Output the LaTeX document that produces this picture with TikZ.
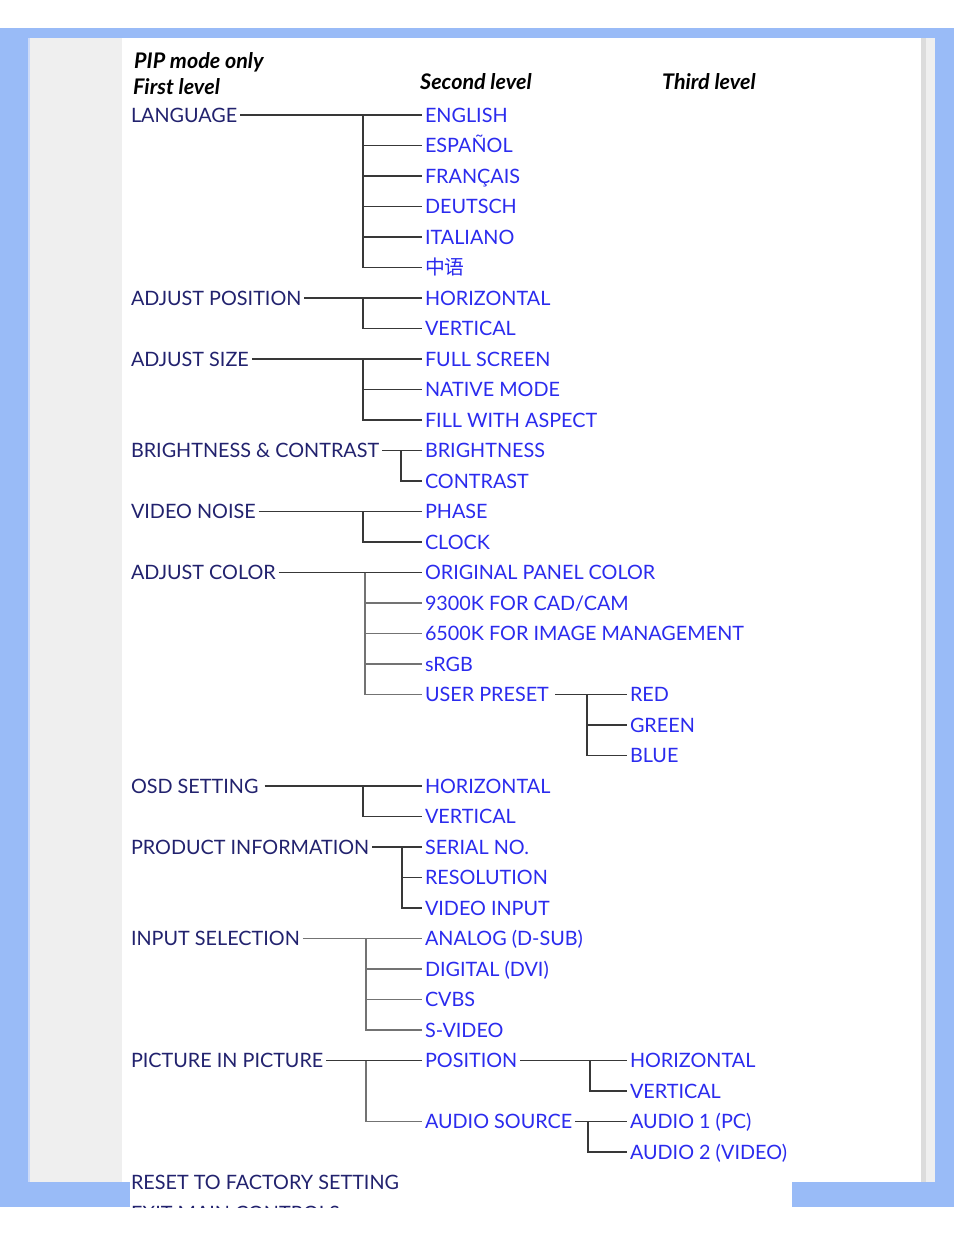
\documentclass[tikz,border=0pt]{standalone}
\usepackage{fontspec}
\setmainfont{Lato}
\newfontfamily\cjk{Noto Sans CJK SC}
\definecolor{frameBlue}{HTML}{99BBF7}
\definecolor{frameLine}{HTML}{CCDAF8}
\definecolor{panelGray}{HTML}{EFEFEF}
\definecolor{edgeGray}{HTML}{DCDCDC}
\definecolor{menuNavy}{HTML}{22226E}
\definecolor{menuBlue}{HTML}{2B2BEE}
\newcommand\ry[1]{115+30.5*#1}
\tikzset{
  lvlone/.style={anchor=west, inner sep=0pt, outer sep=3pt, text=menuNavy,
    font=\fontsize{19.8}{20}\selectfont, text height=14pt, text depth=0pt},
  lvltwo/.style={lvlone, text=menuBlue},
  head/.style={anchor=west, inner sep=0pt, text=black,
    font=\fontsize{21.5}{22}\selectfont\bfseries\itshape},
  branch/.style={draw=black!78, line width=1.4pt},
  branchpale/.style={draw=black!55, line width=1.4pt},
}
\begin{document}
\begin{tikzpicture}[x=1pt,y=-1pt]
  % page frame
  \fill[white] (0,0) rectangle (954,1235);
  \fill[frameBlue] (0,28) rectangle (954,1207);
  \fill[white] (122,38) rectangle (921,1207);
  \fill[panelGray] (30,38) rectangle (122,1182);
  \fill[frameLine] (28,38) rectangle (30,1182);
  \fill[edgeGray] (921,38) rectangle (926,1182);
  \fill[panelGray] (926,38) rectangle (935,1182);
  \fill[frameBlue] (0,1182) rectangle (130,1207);
  \fill[frameBlue] (792,1182) rectangle (954,1207);

  % headings
  \node[head] (pipmode) at (134,62) {PIP mode only};
  \node[head] (firstlvl) at (133,87) {First level};
  \node[head] (secondlvl) at (420,82) {Second level};
  \node[head] (thirdlvl) at (662,82) {Third level};

  % first level
  \node[lvlone] (lang) at (128,{\ry{0}}) {LANGUAGE};
  \node[lvlone] (adjpos) at (128,{\ry{6}}) {ADJUST POSITION};
  \node[lvlone] (adjsize) at (128,{\ry{8}}) {ADJUST SIZE};
  \node[lvlone] (bright) at (128,{\ry{11}}) {BRIGHTNESS \& CONTRAST};
  \node[lvlone] (noise) at (128,{\ry{13}}) {VIDEO NOISE};
  \node[lvlone] (adjcolor) at (128,{\ry{15}}) {ADJUST COLOR};
  \node[lvlone] (osd) at (128,{\ry{22}}) {OSD SETTING\,};
  \node[lvlone] (product) at (128,{\ry{24}}) {PRODUCT INFORMATION};
  \node[lvlone] (input) at (128,{\ry{27}}) {INPUT SELECTION};
  \node[lvlone] (pip) at (128,{\ry{31}}) {PICTURE IN PICTURE};
  \node[lvlone] (reset) at (128,{\ry{35}}) {RESET TO FACTORY SETTING};
  \begin{scope}
    \clip (130,1150) rectangle (792,1207);
    \node[lvlone] (exitmenu) at (128,{\ry{36}}) {EXIT MAIN CONTROLS};
  \end{scope}

  % second level
  \node[lvltwo] (english) at (422,{\ry{0}}) {ENGLISH};
  \node[lvltwo] (espanol) at (422,{\ry{1}}) {ESPAÑOL};
  \node[lvltwo] (francais) at (422,{\ry{2}}) {FRANÇAIS};
  \node[lvltwo] (deutsch) at (422,{\ry{3}}) {DEUTSCH};
  \node[lvltwo] (italiano) at (422,{\ry{4}}) {ITALIANO};
  \node[lvltwo] (chinese) at (422,{\ry{5}}) {\cjk 中语};
  \node[lvltwo] (poshor) at (422,{\ry{6}}) {HORIZONTAL};
  \node[lvltwo] (posver) at (422,{\ry{7}}) {VERTICAL};
  \node[lvltwo] (fullscr) at (422,{\ry{8}}) {FULL SCREEN};
  \node[lvltwo] (native) at (422,{\ry{9}}) {NATIVE MODE};
  \node[lvltwo] (aspect) at (422,{\ry{10}}) {FILL WITH ASPECT};
  \node[lvltwo] (brightness) at (422,{\ry{11}}) {BRIGHTNESS};
  \node[lvltwo] (contrast) at (422,{\ry{12}}) {CONTRAST};
  \node[lvltwo] (phase) at (422,{\ry{13}}) {PHASE};
  \node[lvltwo] (clock) at (422,{\ry{14}}) {CLOCK};
  \node[lvltwo] (panel) at (422,{\ry{15}}) {ORIGINAL PANEL COLOR};
  \node[lvltwo] (ninek) at (422,{\ry{16}}) {9300K FOR CAD/CAM};
  \node[lvltwo] (sixk) at (422,{\ry{17}}) {6500K FOR IMAGE MANAGEMENT};
  \node[lvltwo] (srgb) at (422,{\ry{18}}) {sRGB};
  \node[lvltwo] (preset) at (422,{\ry{19}}) {USER PRESET\,};
  \node[lvltwo] (osdhor) at (422,{\ry{22}}) {HORIZONTAL};
  \node[lvltwo] (osdver) at (422,{\ry{23}}) {VERTICAL};
  \node[lvltwo] (serial) at (422,{\ry{24}}) {SERIAL NO.};
  \node[lvltwo] (resol) at (422,{\ry{25}}) {RESOLUTION};
  \node[lvltwo] (vidin) at (422,{\ry{26}}) {VIDEO INPUT};
  \node[lvltwo] (analog) at (422,{\ry{27}}) {ANALOG (D-SUB)};
  \node[lvltwo] (digital) at (422,{\ry{28}}) {DIGITAL (DVI)};
  \node[lvltwo] (cvbs) at (422,{\ry{29}}) {CVBS};
  \node[lvltwo] (svideo) at (422,{\ry{30}}) {S-VIDEO};
  \node[lvltwo] (pippos) at (422,{\ry{31}}) {POSITION};
  \node[lvltwo] (audiosrc) at (422,{\ry{33}}) {AUDIO SOURCE};

  % third level
  \node[lvltwo] (red) at (627,{\ry{19}}) {RED};
  \node[lvltwo] (green) at (627,{\ry{20}}) {GREEN};
  \node[lvltwo] (blue) at (627,{\ry{21}}) {BLUE};
  \node[lvltwo] (piphor) at (627,{\ry{31}}) {HORIZONTAL};
  \node[lvltwo] (pipver) at (627,{\ry{32}}) {VERTICAL};
  \node[lvltwo] (audioone) at (627,{\ry{33}}) {AUDIO 1 (PC)};
  \node[lvltwo] (audiotwo) at (627,{\ry{34}}) {AUDIO 2 (VIDEO)};

  % junctions
  \coordinate (jlang) at (363,{\ry{0}});
  \coordinate (jadjpos) at (363,{\ry{6}});
  \coordinate (jadjsize) at (363,{\ry{8}});
  \coordinate (jbright) at (401,{\ry{11}});
  \coordinate (jnoise) at (363,{\ry{13}});
  \coordinate (jcolor) at (365,{\ry{15}});
  \coordinate (jpreset) at (587,{\ry{19}});
  \coordinate (josd) at (363,{\ry{22}});
  \coordinate (jproduct) at (402,{\ry{24}});
  \coordinate (jinput) at (366,{\ry{27}});
  \coordinate (jpip) at (366,{\ry{31}});
  \coordinate (jpippos) at (590,{\ry{31}});
  \coordinate (jaudio) at (588,{\ry{33}});

  % connectors
  \draw[branch] (lang.east) -- (english.west);
  \foreach \c in {espanol,francais,deutsch,italiano,chinese}
    \draw[branch] (jlang) |- (\c.west);
  \draw[branch] (adjpos.east) -- (poshor.west);
  \draw[branch] (jadjpos) |- (posver.west);
  \draw[branch] (adjsize.east) -- (fullscr.west);
  \foreach \c in {native,aspect}
    \draw[branch] (jadjsize) |- (\c.west);
  \draw[branch] (bright.east) -- (brightness.west);
  \draw[branch] (jbright) |- (contrast.west);
  \draw[branch] (noise.east) -- (phase.west);
  \draw[branch] (jnoise) |- (clock.west);
  \draw[branch] (adjcolor.east) -- (panel.west);
  \foreach \c in {ninek,sixk,srgb,preset}
    \draw[branchpale] (jcolor) |- (\c.west);
  \draw[branch] (preset.east) -- (red.west);
  \foreach \c in {green,blue}
    \draw[branch] (jpreset) |- (\c.west);
  \draw[branch] (osd.east) -- (osdhor.west);
  \draw[branch] (josd) |- (osdver.west);
  \draw[branch] (product.east) -- (serial.west);
  \foreach \c in {resol,vidin}
    \draw[branch] (jproduct) |- (\c.west);
  \draw[branchpale] (input.east) -- (analog.west);
  \foreach \c in {digital,cvbs,svideo}
    \draw[branchpale] (jinput) |- (\c.west);
  \draw[branch] (pip.east) -- (pippos.west);
  \draw[branchpale] (jpip) |- (audiosrc.west);
  \draw[branch] (pippos.east) -- (piphor.west);
  \draw[branch] (jpippos) |- (pipver.west);
  \draw[branch] (audiosrc.east) -- (audioone.west);
  \draw[branch] (jaudio) |- (audiotwo.west);
\end{tikzpicture}
\end{document}
